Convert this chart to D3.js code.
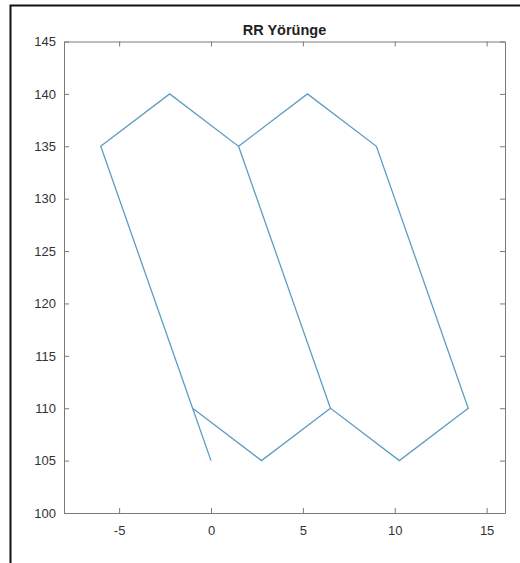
<!DOCTYPE html>
<html>
<head>
<meta charset="utf-8">
<script src="https://cdn.jsdelivr.net/npm/d3@7"></script>
<style>
  body { margin: 0; background: #fff; }
  .axis text { font-family: "Liberation Sans", Arial, sans-serif; font-size: 13px; fill: #333; }
</style>
</head>
<body>
<div id="chart"></div>
<script>
// trajectory points, in drawing order (one edge is retraced)
var xs = [0, -1, -6, -2.25, 1.5, 6.5, 10.25, 14, 9, 5.25, 1.5, 6.5, 2.75, -1]
var ys = [105, 110, 135, 140, 135, 110, 105, 110, 135, 140, 135, 110, 105, 110]
var xTicks = [-5, 0, 5, 10, 15]
var yTicks = [100, 105, 110, 115, 120, 125, 130, 135, 140, 145]

var width = 520
var height = 563
var plotLeft = 64, plotRight = 505, plotTop = 41.5, plotBottom = 513

var svg = d3.select("#chart")
  .append("svg")
    .attr("width", width)
    .attr("height", height)

// figure frame
svg.append("path")
  .attr("d", "M10.5," + height + "V5.5H" + width)
  .attr("fill", "none")
  .attr("stroke", "#111")
  .attr("stroke-width", 2)

var x = d3.scaleLinear().domain([-8, 16]).range([plotLeft, plotRight])
var y = d3.scaleLinear().domain([100, 145]).range([plotBottom, plotTop])

var tick = 5
var fmt = function(d) { return String(d) }

svg.append("g")
    .attr("class", "axis")
    .attr("transform", "translate(0," + plotBottom + ")")
    .call(d3.axisBottom(x).tickValues(xTicks).tickFormat(fmt).tickSizeInner(-tick).tickSizeOuter(0).tickPadding(13))

svg.append("g")
    .attr("class", "axis")
    .attr("transform", "translate(" + plotLeft + ",0)")
    .call(d3.axisLeft(y).tickValues(yTicks).tickFormat(fmt).tickSizeInner(-tick).tickSizeOuter(0).tickPadding(8))

svg.append("g")
    .attr("class", "axis")
    .attr("transform", "translate(0," + plotTop + ")")
    .call(d3.axisTop(x).tickValues(xTicks).tickSizeInner(-tick).tickSizeOuter(0).tickFormat(""))

svg.append("g")
    .attr("class", "axis")
    .attr("transform", "translate(" + plotRight + ",0)")
    .call(d3.axisRight(y).tickValues(yTicks).tickSizeInner(-tick).tickSizeOuter(0).tickFormat(""))

svg.selectAll(".axis path, .axis line")
  .attr("stroke", "#7a7a7a")

svg.selectAll(".axis text").attr("fill", "#333")

var line = d3.line()
  .x(function(d, i) { return x(xs[i]) })
  .y(function(d, i) { return y(ys[i]) })

svg.append("path")
  .attr("d", line(xs))
  .attr("fill", "none")
  .attr("stroke", "#5f9dc0")
  .attr("stroke-width", 1.3)

svg.append("text")
  .attr("x", (plotLeft + plotRight) / 2)
  .attr("y", 35)
  .attr("text-anchor", "middle")
  .style("font-family", "'Liberation Sans', Arial, sans-serif")
  .style("font-size", "14.5px")
  .style("font-weight", "bold")
  .style("fill", "#222")
  .text("RR Yörünge")
</script>
</body>
</html>
